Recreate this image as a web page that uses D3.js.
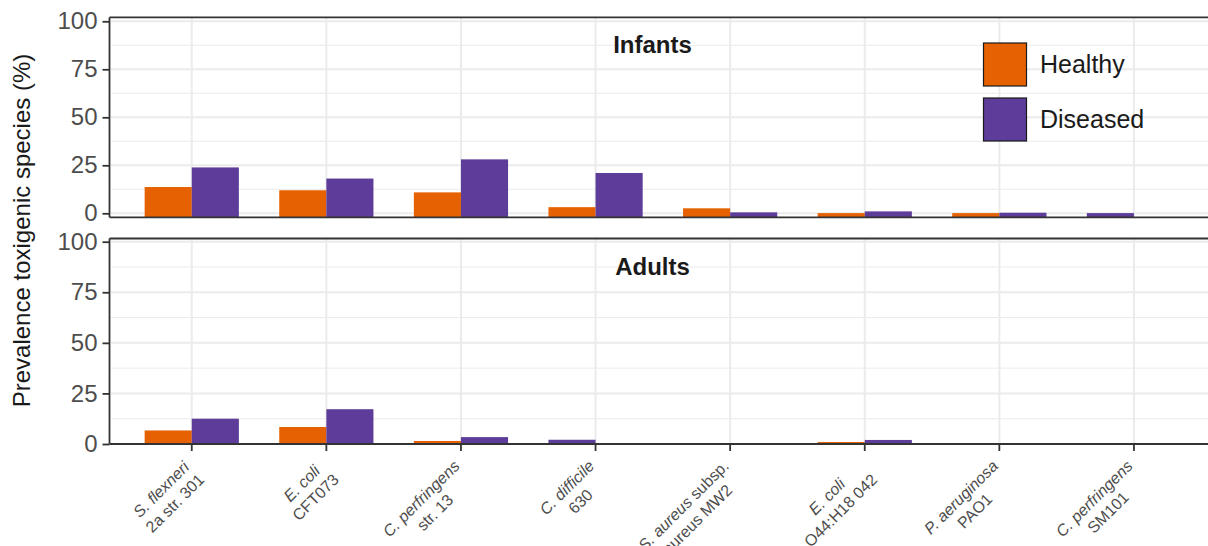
<!DOCTYPE html>
<html>
<head>
<meta charset="utf-8">
<script src="https://cdn.jsdelivr.net/npm/d3@7"></script>
<style>
  html, body { margin: 0; padding: 0; background: #fff; }
  svg { display: block; font-family: "Liberation Sans", Arial, sans-serif; }
</style>
</head>
<body>
<svg id="chart" width="1208" height="546"></svg>
<script>
// Toxigenic reference strains (x axis): italic species, optional plain suffix, strain line
const speciesNames = ["S. flexneri", "E. coli", "C. perfringens", "C. difficile", "S. aureus", "E. coli", "P. aeruginosa", "C. perfringens"];
const speciesSuffix = ["", "", "", "", " subsp.", "", "", ""];
const strainNames = ["2a str. 301", "CFT073", "str. 13", "630", "aureus MW2", "O44:H18 042", "PAO1", "SM101"];

const groups = ["Healthy", "Diseased"];
const panels = ["Infants", "Adults"];
const yTicks = [0, 25, 50, 75, 100];
const yMinorTicks = [12.5, 37.5, 62.5, 87.5];

// Prevalence (%) of each toxigenic strain; null = not detected
const infantsHealthy  = [13.7, 12.0, 10.9, 3.2, 2.6, 0.1, 0.1, null];
const infantsDiseased = [23.9, 18.1, 28.1, 21.0, 0.5, 1.0, 0.3, 0.1];
const adultsHealthy   = [6.7, 8.4, 1.5, null, null, 1.0, null, null];
const adultsDiseased  = [12.5, 17.2, 3.4, 2.1, null, 2.0, null, null];

const colors = { Healthy: "#e66101", Diseased: "#5e3c99" };
const axisColor = "#333333";
const gridColor = "#ebebeb";
const textGray = "#4d4d4d";

const svg = d3.select("#chart");
const idx = d3.range(speciesNames.length).map(String);

const x = d3.scaleBand().domain(idx).range([111, 1214.7]).paddingInner(0).paddingOuter(0.1);
const dodge = d3.scaleBand().domain(groups).range([0, x.bandwidth() * 0.7]);

const panelDefs = [
  { name: panels[0], top: 17.3, bottom: 217.3, domain: [-2.08, 102.08], healthy: infantsHealthy, diseased: infantsDiseased, labelY: 53, xTicks: false },
  { name: panels[1], top: 238.5, bottom: 444, domain: [0, 101.58], healthy: adultsHealthy, diseased: adultsDiseased, labelY: 275, xTicks: true }
];

const clipW = 1208;

panelDefs.forEach(p => {
  const y = d3.scaleLinear().domain(p.domain).range([p.bottom, p.top]);
  const g = svg.append("g");
  const [x0, x1] = x.range();

  // grid
  g.selectAll(".minor").data(yMinorTicks).join("line")
    .attr("x1", x0).attr("x2", x1).attr("y1", d => y(d)).attr("y2", d => y(d))
    .attr("stroke", gridColor).attr("stroke-width", 1);
  g.selectAll(".major").data(yTicks).join("line")
    .attr("x1", x0).attr("x2", x1).attr("y1", d => y(d)).attr("y2", d => y(d))
    .attr("stroke", gridColor).attr("stroke-width", 2);
  g.selectAll(".vgrid").data(idx).join("line")
    .attr("x1", d => x(d) + x.bandwidth() / 2).attr("x2", d => x(d) + x.bandwidth() / 2)
    .attr("y1", p.top).attr("y2", p.bottom)
    .attr("stroke", gridColor).attr("stroke-width", 2);

  // bars (a lone bar takes the first dodge slot)
  const rows = [];
  idx.forEach((k, i) => {
    const vals = { Healthy: p.healthy[i], Diseased: p.diseased[i] };
    const present = groups.filter(gr => vals[gr] !== null);
    present.forEach(gr => {
      const slot = present.length === 1 ? groups[0] : gr;
      rows.push({ k, gr, v: vals[gr], slot });
    });
  });
  const base = y(p.domain[0]);
  g.selectAll(".bar").data(rows).join("rect")
    .attr("x", d => x(d.k) + x.bandwidth() * 0.15 + dodge(d.slot))
    .attr("width", dodge.bandwidth())
    .attr("y", d => y(d.v))
    .attr("height", d => base - y(d.v))
    .attr("fill", d => colors[d.gr]);

  // panel frame: top, left and bottom lines
  g.append("line").attr("x1", x0 - 1.5).attr("x2", clipW).attr("y1", p.top).attr("y2", p.top)
    .attr("stroke", axisColor).attr("stroke-width", 1.8);
  g.append("line").attr("x1", x0 - 1.5).attr("x2", clipW).attr("y1", p.bottom).attr("y2", p.bottom)
    .attr("stroke", axisColor).attr("stroke-width", 1.8);
  g.append("line").attr("x1", x0 - 1.5).attr("x2", x0 - 1.5).attr("y1", p.top).attr("y2", p.bottom)
    .attr("stroke", axisColor).attr("stroke-width", 1.8);

  // y axis
  const ya = svg.append("g").attr("transform", `translate(${x0 - 1.5},0)`)
    .call(d3.axisLeft(y).tickValues(yTicks).tickSize(7).tickPadding(5));
  ya.select(".domain").remove();
  ya.selectAll(".tick line").attr("stroke", axisColor).attr("stroke-width", 1.8);
  ya.selectAll(".tick text").attr("fill", textGray).style("font-size", "24px")
    .style("font-family", "'Liberation Sans', Arial, sans-serif");

  // x ticks on the lower panel
  if (p.xTicks) {
    g.selectAll(".xtick").data(idx).join("line")
      .attr("x1", d => x(d) + x.bandwidth() / 2).attr("x2", d => x(d) + x.bandwidth() / 2)
      .attr("y1", p.bottom).attr("y2", p.bottom + 7)
      .attr("stroke", axisColor).attr("stroke-width", 1.8);
  }

  // facet label
  svg.append("text").attr("x", 652.5).attr("y", p.labelY)
    .attr("text-anchor", "middle").attr("font-weight", "bold")
    .attr("font-size", 24).attr("fill", "#1a1a1a").text(p.name);
});

// x axis labels: two centred lines, block right-aligned near the tick, rotated 45°
const xLabY = panelDefs[1].bottom;
idx.forEach((k, i) => {
  const xc = x(k) + x.bandwidth() / 2;
  const g = svg.append("g").attr("transform", `translate(${xc},${xLabY}) rotate(-45)`);
  const t1 = g.append("text").attr("y", 16).attr("font-size", 16).attr("fill", textGray);
  t1.append("tspan").attr("font-style", "italic").text(speciesNames[i]);
  if (speciesSuffix[i]) t1.append("tspan").text(speciesSuffix[i]);
  const t2 = g.append("text").attr("y", 35.5).attr("font-size", 16).attr("fill", textGray).text(strainNames[i]);
  const w1 = t1.node().getComputedTextLength();
  const w2 = t2.node().getComputedTextLength();
  const W = Math.max(w1, w2);
  const cx = -16.5 - W / 2;
  t1.attr("x", cx).attr("text-anchor", "middle");
  t2.attr("x", cx).attr("text-anchor", "middle");
});

// y axis title
svg.append("text")
  .attr("transform", "translate(30,230.5) rotate(-90)")
  .attr("text-anchor", "middle").attr("font-size", 24).attr("fill", "#1a1a1a")
  .text("Prevalence toxigenic species (%)");

// legend
const legend = svg.append("g").attr("transform", "translate(983.5,43)");
groups.forEach((gr, i) => {
  legend.append("rect").attr("x", 0).attr("y", i * 55).attr("width", 43).attr("height", 43)
    .attr("fill", colors[gr]).attr("stroke", "#1a1a1a").attr("stroke-width", 1.2);
  legend.append("text").attr("x", 56.5).attr("y", i * 55 + 21.5).attr("dy", "0.35em")
    .attr("font-size", 25).attr("fill", "#1a1a1a").text(gr);
});
</script>
</body>
</html>
